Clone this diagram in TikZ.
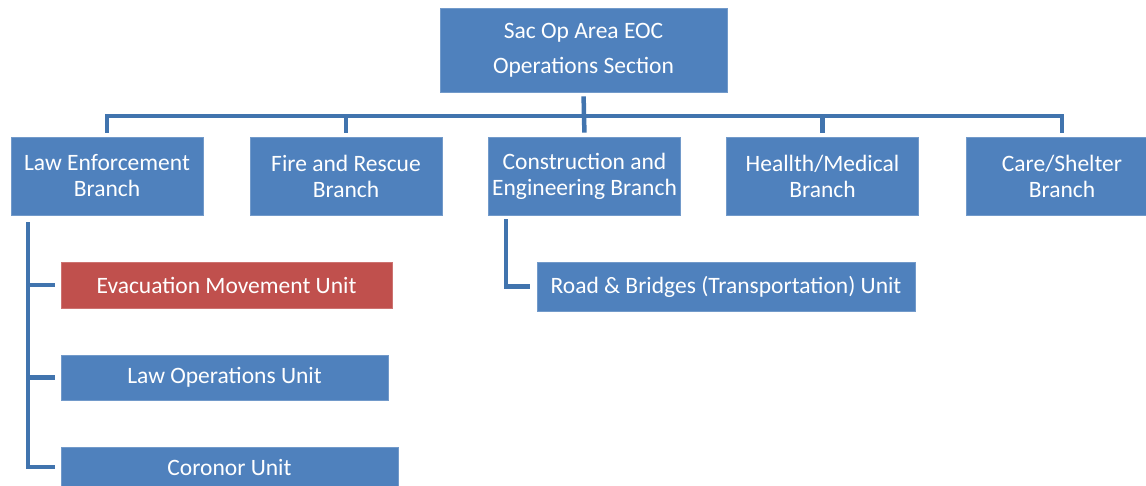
\documentclass[tikz,border=0pt]{standalone}
\usepackage{fontspec}
\setmainfont{Carlito}
\definecolor{boxblue}{HTML}{4F81BD}
\definecolor{boxred}{HTML}{C0504D}
\definecolor{linkblue}{HTML}{4174AE}
\begin{document}
\begin{tikzpicture}[x=1pt,y=-1pt,
  box/.style={draw=boxblue!80!white, line width=0.8pt, fill=boxblue, text=white, align=center,
    inner sep=0pt, font=\fontsize{23.5}{26}\selectfont},
  redbox/.style={box, draw=boxred!80!white, fill=boxred},
  conn/.style={draw=linkblue, line width=4.5pt}]
\useasboundingbox (0,0) rectangle (1146,485);
\clip (0,0) rectangle (1146,485);
\fill[white] (0,0) rectangle (1146,485);
% top
\node[box, minimum width=287pt, minimum height=84pt, font=\fontsize{23.5}{35}\selectfont] (top) at (583.5,50) {Sac Op Area EOC\\Operations Section};
% branches
\node[box, minimum width=192pt, minimum height=78pt] (law) at (107,176) {Law Enforcement\\Branch};
\node[box, minimum width=192pt, minimum height=78pt] (fire) at (346,176) {Fire and Rescue\\Branch};
\node[box, minimum width=192pt, minimum height=78pt] (cons) at (584.5,176) {Construction and\\Engineering Branch};
\node[box, minimum width=192pt, minimum height=78pt] (health) at (822.5,176) {Heallth/Medical\\Branch};
\node[box, minimum width=192pt, minimum height=78pt] (care) at (1062,176) {Care/Shelter\\Branch};
% units
\node[redbox, minimum width=331pt, minimum height=46pt] (evac) at (226.5,285) {Evacuation Movement Unit};
\node[box, minimum width=327pt, minimum height=45pt] (lawops) at (224.5,377.5) {Law Operations Unit};
\node[box, minimum width=337pt, minimum height=40pt] (coro) at (229.5,467) {Coronor Unit};
\node[box, minimum width=378pt, minimum height=49pt] (road) at (726,286.5) {Road \& Bridges (Transportation) Unit};
% connectors
\coordinate (bar) at (583.5,116);
\draw[conn, shorten <=4pt, shorten >=4pt] (top.south) -- (cons.north);
\draw[conn, shorten <=4pt, shorten >=4pt] (law.north) |- (bar) -| (care.north);
\draw[conn, shorten <=4pt] (fire.north) -- (fire.north |- bar);
\draw[conn, shorten <=4pt] (health.north) -- (health.north |- bar);
\coordinate (lawtrunk) at (28,222);
\draw[conn, shorten >=6pt] (lawtrunk) |- (coro.west);
\draw[conn, shorten >=6pt] (lawtrunk |- evac.west) -- (evac.west);
\draw[conn, shorten >=6pt] (lawtrunk |- lawops.west) -- (lawops.west);
\coordinate (construnk) at (506,219);
\draw[conn, shorten >=7pt] (construnk) |- (road.west);
\end{tikzpicture}
\end{document}
